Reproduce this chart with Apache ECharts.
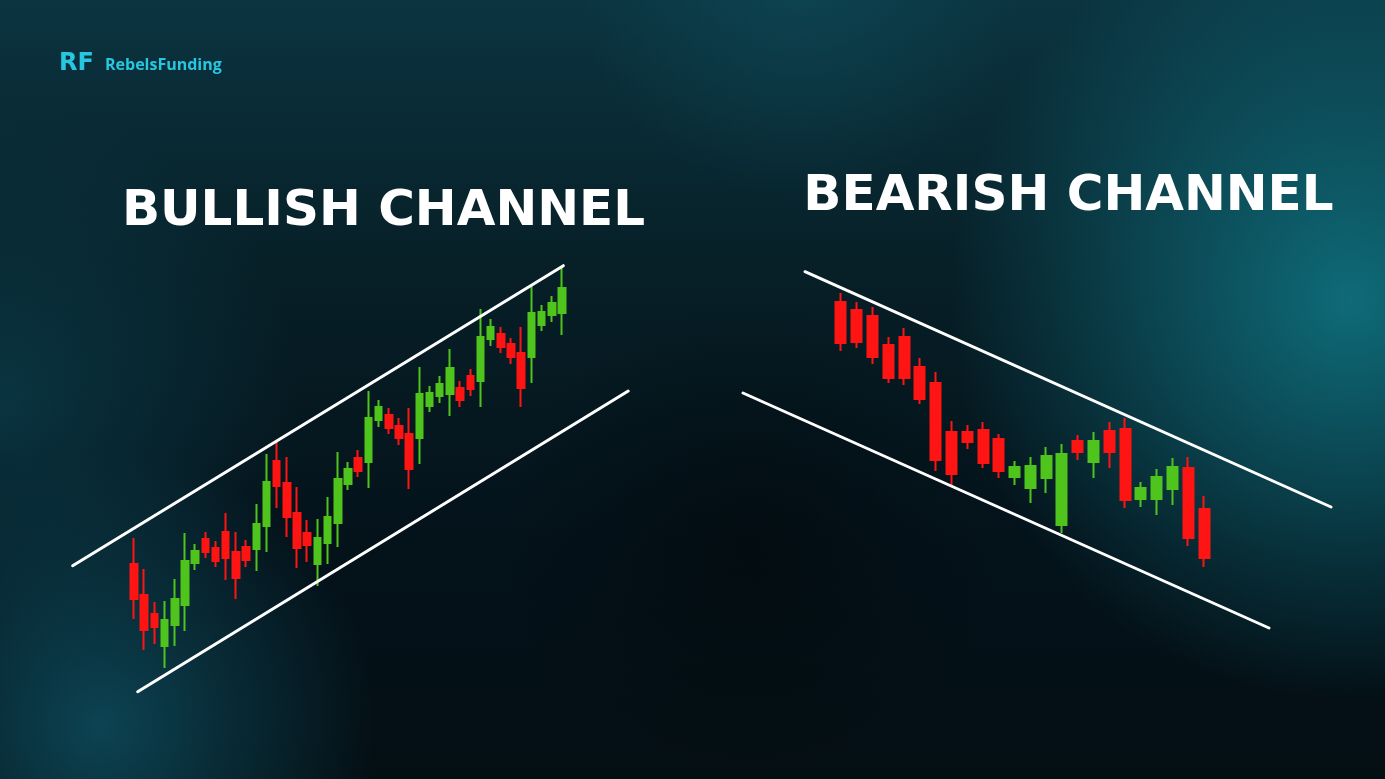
<!DOCTYPE html>
<html>
<head>
<meta charset="utf-8">
<script src="https://cdn.jsdelivr.net/npm/echarts@6/dist/echarts.min.js"></script>
<style>html,body{margin:0;padding:0;background:#061a21;}#c{width:1385px;height:779px;}</style>
</head>
<body>
<div id="c"></div>
<script>
// ---- Bullish channel candles: [open, close, low, high] ----
const bullCategories = Array.from({length: 43}, (_, i) => 'B' + (i + 1));
const bullCandles = [
  [136,101,81,162],[105,70,50,131],[86,73,56,98],[54,80,32,99],[75,101,54,121],
  [95,139,69,167],[137,149,130,156],[161,148,142,168],[152,139,133,159],[168,142,120,187],
  [148,122,101,168],[153,140,133,160],[151,176,129,196],[174,218,148,246],[239,214,192,259],
  [217,183,163,243],[187,152,132,213],[167,155,138,180],[136,162,114,181],[157,183,136,203],
  [177,221,153,248],[216,231,210,238],[242,229,223,250],[238,282,212,309],[280,293,273,300],
  [285,272,266,292],[274,262,255,282],[266,231,211,292],[262,306,236,333],[294,307,288,314],
  [304,316,297,324],[306,332,284,351],[312,300,293,319],[324,311,304,331],[319,363,293,391],
  [361,373,354,381],[366,353,347,373],[356,343,336,362],[347,312,293,373],[343,387,317,414],
  [375,388,369,395],[385,397,378,404],[387,412,365,433]
];
// channel lines: [candle index, price]
const bullUpper = [[-6.02,134.3],[42.13,434.3]];
const bullLower = [[0.36,8.3],[48.5,309]];

// ---- Bearish channel candles: [open, close, low, high] ----
const bearCategories = Array.from({length: 24}, (_, i) => 'S' + (i + 1));
const bearCandles = [
  [298,257,249,307],[290,258,252,298],[284,243,236,293],[255,222,217,263],[263,222,215,272],
  [233,201,196,242],[217,140,129,228],[168,126,115,179],[168,158,151,175],[170,137,132,178],
  [161,129,122,166],[123,133,115,139],[112,134,97,143],[122,144,107,153],[75,146,67,156],
  [159,148,140,165],[138,159,122,168],[169,148,132,178],[171,100,92,182],[101,112,93,118],
  [101,123,85,131],[111,133,95,142],[132,62,54,143],[91,42,33,104]
];
const bearUpper = [[-2.28,328.3],[31.05,93]];
const bearLower = [[-6.21,207],[27.12,-28]];

const titles = ['BULLISH CHANNEL', 'BEARISH CHANNEL'];
const brand = 'RebelsFunding';

const RED = '#ff1414';
const GREEN = '#4fc41c';

const chart = echarts.init(document.getElementById('c'), null, {renderer: 'canvas'});

function rg(cx, cy, r, stops) {
  return new echarts.graphic.RadialGradient(cx, cy, r, stops);
}

// pixel geometry of the candle grids
const bullGrid = {left: 128.9, top: 250, width: 438.2, height: 450};
const bearGrid = {left: 833.1, top: 250, width: 378.8, height: 400};
const bullStep = bullGrid.width / bullCandles.length;
const bearStep = bearGrid.width / bearCandles.length;
// wider grids (same scale) for the channel lines
const bullLineGrid = {left: 60, top: 250, width: 590, height: 450};
const bearLineGrid = {left: 720, top: 250, width: 630, height: 400};
function idxAt(px, g, step) { return (px - g.left) / step - 0.5; }

const option = {
  backgroundColor: new echarts.graphic.LinearGradient(0, 0, 0, 1, [
    {offset: 0, color: '#0b3440'},
    {offset: 0.35, color: '#071f27'},
    {offset: 0.7, color: '#04121a'},
    {offset: 1, color: '#040f14'}
  ]),
  animation: false,
  graphic: [
    {type: 'rect', z: -10, silent: true, shape: {x: 900, y: -100, width: 900, height: 800},
     style: {fill: rg(0.5, 0.5, 0.5, [{offset: 0, color: 'rgba(16,120,135,0.85)'}, {offset: 1, color: 'rgba(16,120,135,0)'}])}},
    {type: 'rect', z: -10, silent: true, shape: {x: -350, y: 450, width: 900, height: 550},
     style: {fill: rg(0.5, 0.5, 0.5, [{offset: 0, color: 'rgba(14,80,98,0.8)'}, {offset: 1, color: 'rgba(14,80,98,0)'}])}},
    {type: 'rect', z: -10, silent: true, shape: {x: -300, y: 100, width: 600, height: 600},
     style: {fill: rg(0.5, 0.5, 0.5, [{offset: 0, color: 'rgba(12,70,85,0.6)'}, {offset: 1, color: 'rgba(12,70,85,0)'}])}},
    {type: 'rect', z: -10, silent: true, shape: {x: 200, y: -250, width: 1200, height: 450},
     style: {fill: rg(0.5, 0.5, 0.5, [{offset: 0, color: 'rgba(14,78,92,0.6)'}, {offset: 1, color: 'rgba(14,78,92,0)'}])}},
    {type: 'rect', z: -10, silent: true, shape: {x: 400, y: 300, width: 700, height: 500},
     style: {fill: rg(0.5, 0.5, 0.5, [{offset: 0, color: 'rgba(2,10,14,0.7)'}, {offset: 1, color: 'rgba(2,10,14,0)'}])}},
    {type: 'text', z: 5, x: 59, y: 64,
     style: {text: 'RF', fill: '#27c8df', font: '900 24px "DejaVu Sans"', textVerticalAlign: 'middle'}},
    {type: 'text', z: 5, x: 105, y: 65,
     style: {text: brand, fill: '#27c8df', font: 'bold 16px "Open Sans"', textVerticalAlign: 'middle'}},
    {type: 'text', z: 5, x: 383.5, y: 212,
     style: {text: titles[0], fill: '#ffffff', font: 'bold 50px "DejaVu Sans"', textAlign: 'center', textVerticalAlign: 'middle'}},
    {type: 'text', z: 5, x: 1068.5, y: 197,
     style: {text: titles[1], fill: '#ffffff', font: 'bold 50px "DejaVu Sans"', textAlign: 'center', textVerticalAlign: 'middle'}}
  ],
  grid: [bullGrid, bearGrid, bullLineGrid, bearLineGrid],
  xAxis: [
    {type: 'category', gridIndex: 0, data: bullCategories, boundaryGap: true, show: false},
    {type: 'category', gridIndex: 1, data: bearCategories, boundaryGap: true, show: false},
    {type: 'value', gridIndex: 2, show: false,
     min: idxAt(bullLineGrid.left, bullGrid, bullStep),
     max: idxAt(bullLineGrid.left + bullLineGrid.width, bullGrid, bullStep)},
    {type: 'value', gridIndex: 3, show: false,
     min: idxAt(bearLineGrid.left, bearGrid, bearStep),
     max: idxAt(bearLineGrid.left + bearLineGrid.width, bearGrid, bearStep)}
  ],
  yAxis: [
    {type: 'value', gridIndex: 0, min: 0, max: 450, show: false},
    {type: 'value', gridIndex: 1, min: -50, max: 350, show: false},
    {type: 'value', gridIndex: 2, min: 0, max: 450, show: false},
    {type: 'value', gridIndex: 3, min: -50, max: 350, show: false}
  ],
  series: [
    {type: 'candlestick', xAxisIndex: 0, yAxisIndex: 0, data: bullCandles, barWidth: 7,
     itemStyle: {color: GREEN, color0: RED, borderColor: GREEN, borderColor0: RED, borderWidth: 2}},
    {type: 'line', xAxisIndex: 2, yAxisIndex: 2, data: bullUpper, clip: false, symbol: 'none',
     lineStyle: {color: '#ffffff', width: 3, cap: 'round'}},
    {type: 'line', xAxisIndex: 2, yAxisIndex: 2, data: bullLower, clip: false, symbol: 'none',
     lineStyle: {color: '#ffffff', width: 3, cap: 'round'}},
    {type: 'candlestick', xAxisIndex: 1, yAxisIndex: 1, data: bearCandles, barWidth: 10.5,
     itemStyle: {color: GREEN, color0: RED, borderColor: GREEN, borderColor0: RED, borderWidth: 2}},
    {type: 'line', xAxisIndex: 3, yAxisIndex: 3, data: bearUpper, clip: false, symbol: 'none',
     lineStyle: {color: '#ffffff', width: 3, cap: 'round'}},
    {type: 'line', xAxisIndex: 3, yAxisIndex: 3, data: bearLower, clip: false, symbol: 'none',
     lineStyle: {color: '#ffffff', width: 3, cap: 'round'}}
  ]
};
chart.setOption(option);
</script>
</body>
</html>
